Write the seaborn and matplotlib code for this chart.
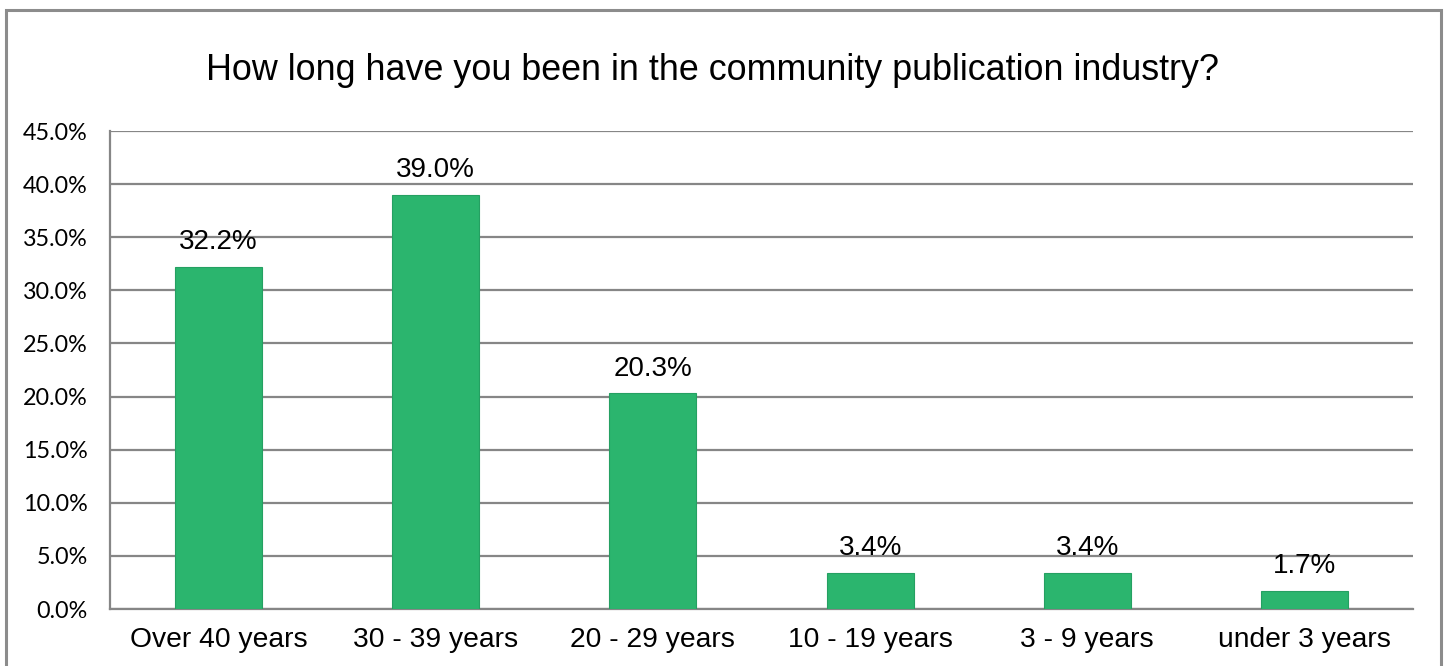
import matplotlib
matplotlib.use("Agg")
import matplotlib.pyplot as plt
import matplotlib.patches as mpatches
from matplotlib.ticker import FixedLocator, MultipleLocator, FuncFormatter
import seaborn as sns
import pandas as pd

categories = ["Over 40 years", "30 - 39 years", "20 - 29 years",
              "10 - 19 years", "3 - 9 years", "under 3 years"]
shares = [32.2, 39.0, 20.3, 3.4, 3.4, 1.7]
title = "How long have you been in the community publication industry?"

df = pd.DataFrame({"tenure": categories, "share": shares})

sns.set_theme(style="white")
plt.rcParams["font.family"] = ["Liberation Sans", "DejaVu Sans"]

grid_col = "#868686"
bar_col = "#2bb56e"

fig = plt.figure(figsize=(14.45, 6.66), dpi=100)
ax = fig.add_axes([110 / 1445, 1 - 609 / 666, (1413 - 110) / 1445, (609 - 131) / 666])

# outer chart frame
fig.patches.append(mpatches.Rectangle((6 / 1445, -0.05), (1441 - 6) / 1445, 1.05 - 10 / 666,
                                      transform=fig.transFigure, fill=False,
                                      edgecolor="#8c8c8c", linewidth=2.2))

sns.barplot(data=df, x="tenure", y="share", color=bar_col, width=0.4,
            edgecolor="#25a062", linewidth=0.8, saturation=1, ax=ax, zorder=3)

ax.set_xlim(-0.5, len(categories) - 0.5)
ax.set_ylim(0, 45)
ax.yaxis.set_major_locator(MultipleLocator(5))
ax.yaxis.set_major_formatter(FuncFormatter(lambda v, p: f"{v:.1f}%"))
ax.grid(axis="y", color=grid_col, linewidth=1.6, zorder=0)
ax.set_axisbelow(True)

for s in ["top", "right"]:
    ax.spines[s].set_visible(False)
for s in ["left", "bottom"]:
    ax.spines[s].set_color(grid_col)
    ax.spines[s].set_linewidth(1.6)

ax.tick_params(axis="x", which="major", length=0, pad=13, labelsize=20.3, labelcolor="black")
ax.xaxis.set_minor_locator(FixedLocator([i - 0.5 for i in range(len(categories) + 1)]))
ax.tick_params(axis="x", which="minor", length=8, width=1.6, color=grid_col, direction="out")
ax.tick_params(axis="y", length=6, width=1.6, color=grid_col, direction="out", pad=10,
               labelcolor="black")
for lbl in ax.get_yticklabels():
    lbl.set_fontfamily(["Lato", "DejaVu Sans"])
    lbl.set_fontsize(16.8)
ax.set_xlabel("")
ax.set_ylabel("")

for i, v in enumerate(shares):
    ax.text(i, v + 1.1, f"{v:.1f}%", ha="center", va="bottom", fontsize=20, color="black", zorder=4)

fig.text(712 / 1445, 1 - 70 / 666, title, ha="center", va="center", fontsize=25.8, color="black")

fig.savefig("out.png", dpi=100)
